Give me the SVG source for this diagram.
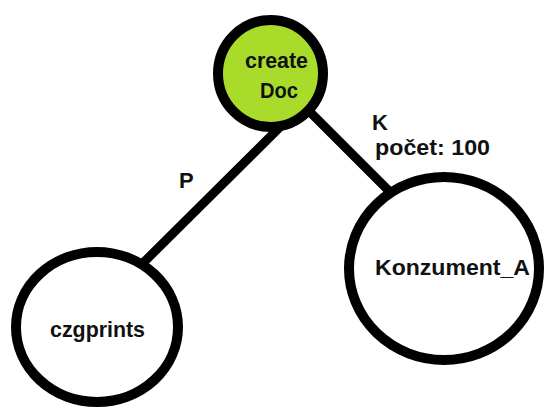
<svg xmlns="http://www.w3.org/2000/svg" width="545" height="409" viewBox="0 0 545 409">
<style>
.edge{stroke:#000;stroke-width:9;fill:none}
.node{stroke:#000;stroke-width:10;fill:#fff}
.hl{fill:#a9dc2a}
text{font-family:"Liberation Sans",Arial,sans-serif;font-weight:bold;font-size:22px;fill:#111}
</style>
<rect width="545" height="409" fill="#fff"/>
<g id="connectors">
<line class="edge" x1="282" y1="125" x2="140" y2="266"/>
<text x="179" y="188">P</text>
<line class="edge" x1="310" y1="112" x2="392" y2="194"/>
<text x="372" y="130">K</text>
<text x="375" y="155" textLength="115" lengthAdjust="spacingAndGlyphs">počet: 100</text>
</g>
<g id="createDoc">
<ellipse class="node hl" cx="270.5" cy="73.5" rx="52.5" ry="53.5"/>
<text x="245" y="68" textLength="63" lengthAdjust="spacingAndGlyphs">create</text>
<text x="260" y="98" textLength="38" lengthAdjust="spacingAndGlyphs">Doc</text>
</g>
<g id="Konzument_A">
<ellipse class="node" cx="444" cy="268.5" rx="95" ry="91.5"/>
<text x="375" y="275" textLength="155" lengthAdjust="spacingAndGlyphs">Konzument_A</text>
</g>
<g id="czgprints">
<ellipse class="node" cx="97" cy="327" rx="81" ry="75"/>
<text x="50" y="337" textLength="95" lengthAdjust="spacingAndGlyphs">czgprints</text>
</g>
</svg>
